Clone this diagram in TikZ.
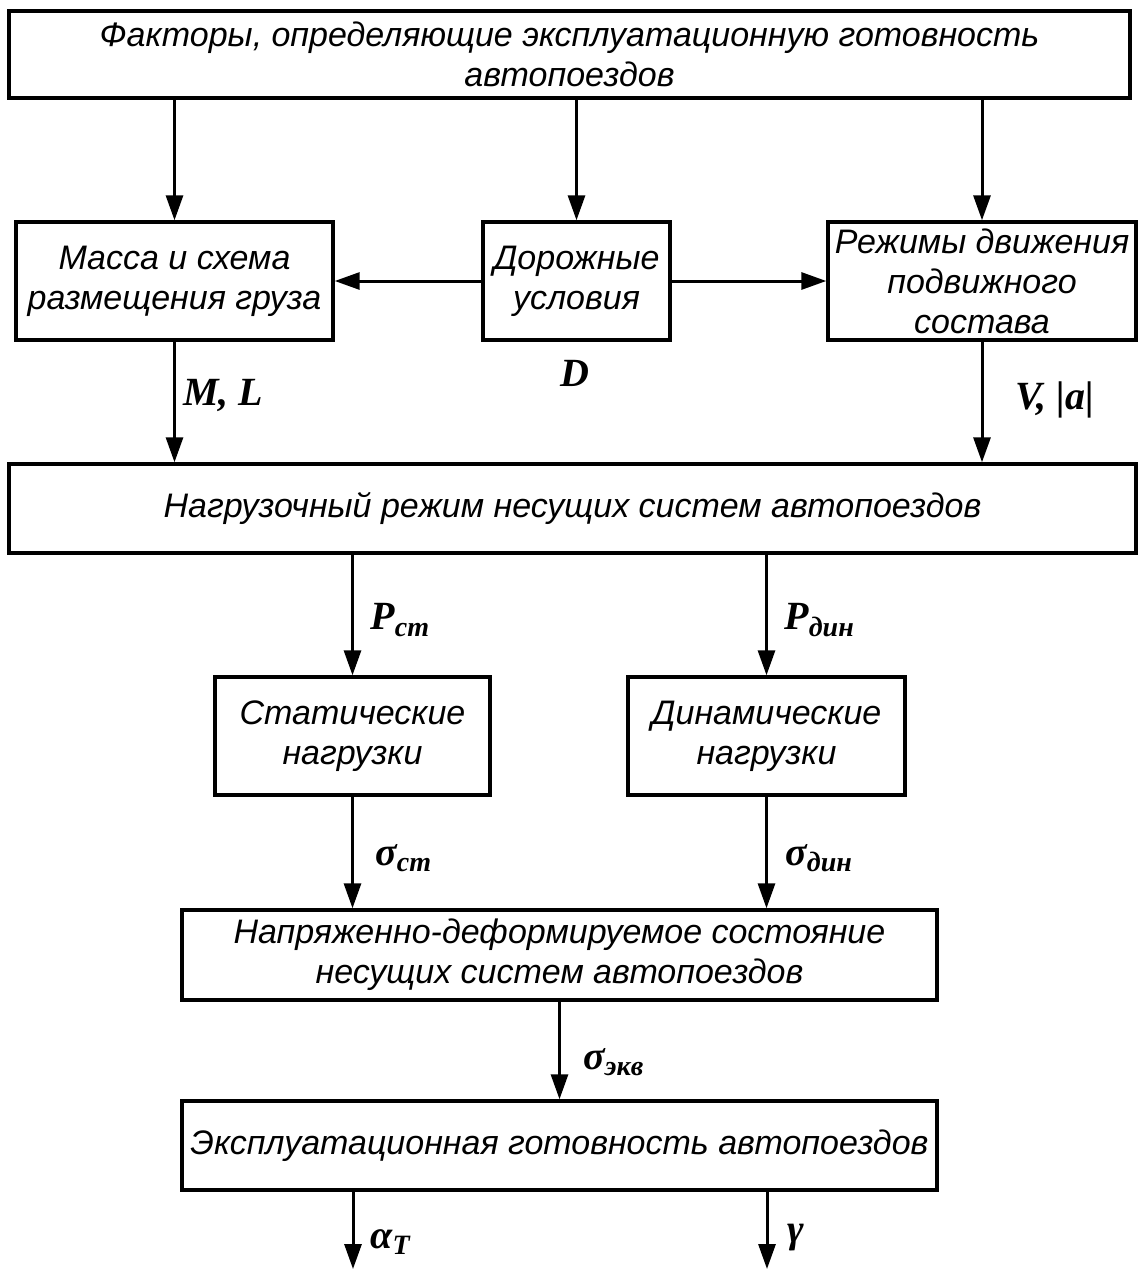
\documentclass[tikz,border=0pt]{standalone}
\usepackage{fontspec}
\setmainfont{Liberation Sans}
\newfontfamily\lblfont{Liberation Serif}
\usetikzlibrary{arrows.meta}

\tikzset{
  box/.style={draw, line width=1.7pt, inner sep=0pt, align=center,
    font=\itshape\fontsize{17}{20}\selectfont},
  arr/.style={line width=1.5pt, -{Triangle[length=12.5pt,width=8.5pt]}},
  lbl/.style={inner sep=0pt, anchor=west,
    font=\lblfont\bfseries\itshape\fontsize{20}{22}\selectfont}
}

\begin{document}
\begin{tikzpicture}[x=0.5pt, y=-0.5pt]
    \useasboundingbox (0,0) rectangle (1138,1269);
    % top box
    \node[box, minimum width=560.5pt, minimum height=43.5pt] (factors) at (569.5,54.5)
        {Факторы, определяющие эксплуатационную готовность\\автопоездов};
    % second row
    \node[box, minimum width=158.5pt, minimum height=59pt] (mass) at (174.5,281)
        {Масса и схема\\размещения груза};
    \node[box, minimum width=93.5pt, minimum height=59pt] (road) at (576.5,281)
        {Дорожные\\условия};
    \node[box, minimum width=154pt, minimum height=59pt] (modes) at (982,281)
        {Режимы движения\\подвижного\\состава};
    % load mode
    \node[box, minimum width=563.5pt, minimum height=44.5pt] (load) at (572.5,508.5)
        {Нагрузочный режим несущих систем автопоездов};
    % static / dynamic loads
    \node[box, minimum width=137.5pt, minimum height=59pt] (stat) at (352.5,736)
        {Статические\\нагрузки};
    \node[box, minimum width=138.5pt, minimum height=59pt] (dyn) at (766.5,736)
        {Динамические\\нагрузки};
    % stress state
    \node[box, minimum width=377.5pt, minimum height=45pt] (stress) at (559.5,955)
        {Напряженно-деформируемое состояние\\несущих систем автопоездов};
    \node[box, minimum width=377.5pt, minimum height=44.5pt] (ready) at (559.5,1145.5)
        {Эксплуатационная готовность автопоездов};
    % free ends at the bottom
    \coordinate (outA) at (353,1269);
    \coordinate (outG) at (767,1269);
    % connectors
    \draw[arr] (factors.south -| mass) -- (mass);
    \draw[arr] (factors.south -| road) -- (road);
    \draw[arr] (factors.south -| modes) -- (modes);
    \draw[arr] (road) -- (mass);
    \draw[arr] (road) -- (modes);
    \draw[arr] (mass) -- (load.north -| mass);
    \draw[arr] (modes) -- (load.north -| modes);
    \draw[arr] (load.south -| stat) -- (stat);
    \draw[arr] (load.south -| dyn) -- (dyn);
    \draw[arr] (stat) -- (stress.north -| stat);
    \draw[arr] (dyn) -- (stress.north -| dyn);
    \draw[arr] (stress) -- (ready);
    \draw[arr] (ready.south -| outA) -- (outA);
    \draw[arr] (ready.south -| outG) -- (outG);
    % labels
    \node[lbl] (ml) at (183,395) {M, L};
    \node[lbl, anchor=center] (dl) at (575,373) {D};
    \node[lbl] (va) at (1015,400) {V, |a|};
    \node[lbl] (pst) at (370,620) {P\textsubscript{ст}};
    \node[lbl] (pdin) at (784,620) {P\textsubscript{дин}};
    \node[lbl] (sst) at (375,858) {σ\textsubscript{ст}};
    \node[lbl] (sdin) at (785,858) {σ\textsubscript{дин}};
    \node[lbl] (sekv) at (583,1062) {σ\textsubscript{экв}};
    \node[lbl] (at) at (370,1242) {α\textsubscript{T}};
    \node[lbl] (gm) at (787,1238) {γ};
\end{tikzpicture}
\end{document}
